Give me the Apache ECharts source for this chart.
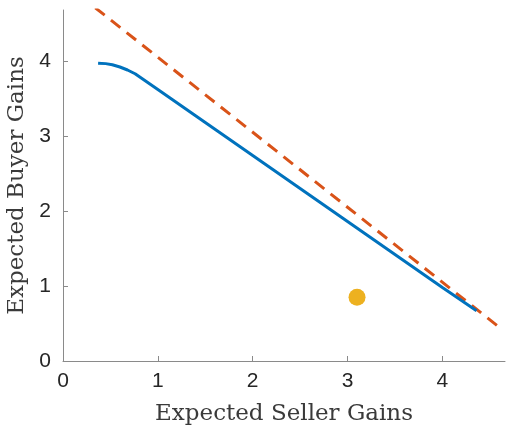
<!DOCTYPE html>
<html><head><meta charset="utf-8">
<script src="https://cdn.jsdelivr.net/npm/echarts@6/dist/echarts.min.js"></script>
<style>html,body{margin:0;padding:0;background:#fff}#c{width:509px;height:432px}</style>
</head><body><div id="c"></div>
<script>
const frontierX = [0.37, 0.45, 0.52, 0.6, 0.68, 0.76, 0.84, 1.0, 1.5, 2.0, 2.5, 3.0, 3.5, 4.0, 4.36];
const frontierY = [3.97, 3.965, 3.95, 3.92, 3.88, 3.83, 3.76, 3.62, 3.18, 2.74, 2.30, 1.86, 1.42, 0.98, 0.67];
const boundX = [0.34, 4.63];
const boundY = [4.71, 0.42];
const pointX = [3.1];
const pointY = [0.85];
const ticks = [0, 1, 2, 3, 4];

const chart = echarts.init(document.getElementById('c'));
const axisCommon = {
  type: 'value', min: 0, interval: 1,
  axisLine: {show: true, lineStyle: {color: '#8a8a8a', width: 1}},
  axisTick: {show: true, inside: true, length: 5, lineStyle: {color: '#8a8a8a'}},
  splitLine: {show: false},
  nameLocation: 'middle',
  nameTextStyle: {fontFamily: 'DejaVu Serif', fontSize: 23, color: '#3a3a3a'},
  axisLabel: {fontFamily: 'Liberation Sans', fontSize: 21, color: '#262626', showMaxLabel: false,
    formatter: v => ticks.includes(v) ? String(v) : ''}
};
chart.setOption({
  animation: false,
  grid: {left: 63, right: 4, top: 10, bottom: 71, containLabel: false, outerBoundsMode: 'none'},
  xAxis: Object.assign({}, axisCommon, {max: 4.66, name: 'Expected Seller Gains', nameGap: 42,
    axisLabel: Object.assign({}, axisCommon.axisLabel, {margin: 10})}),
  yAxis: Object.assign({}, axisCommon, {max: 4.68, name: 'Expected Buyer Gains', nameGap: 32,
    axisLabel: Object.assign({}, axisCommon.axisLabel, {margin: 12})}),
  series: [
    {type: 'line', data: boundX.map((x, i) => [x, boundY[i]]), symbol: 'none',
     lineStyle: {color: '#D95319', width: 3, type: [12, 8]}},
    {type: 'line', data: frontierX.map((x, i) => [x, frontierY[i]]), symbol: 'none',
     lineStyle: {color: '#0072BD', width: 3}},
    {type: 'scatter', data: pointX.map((x, i) => [x, pointY[i]]), symbolSize: 17,
     itemStyle: {color: '#EDB120', opacity: 1}}
  ]
});
</script></body></html>
